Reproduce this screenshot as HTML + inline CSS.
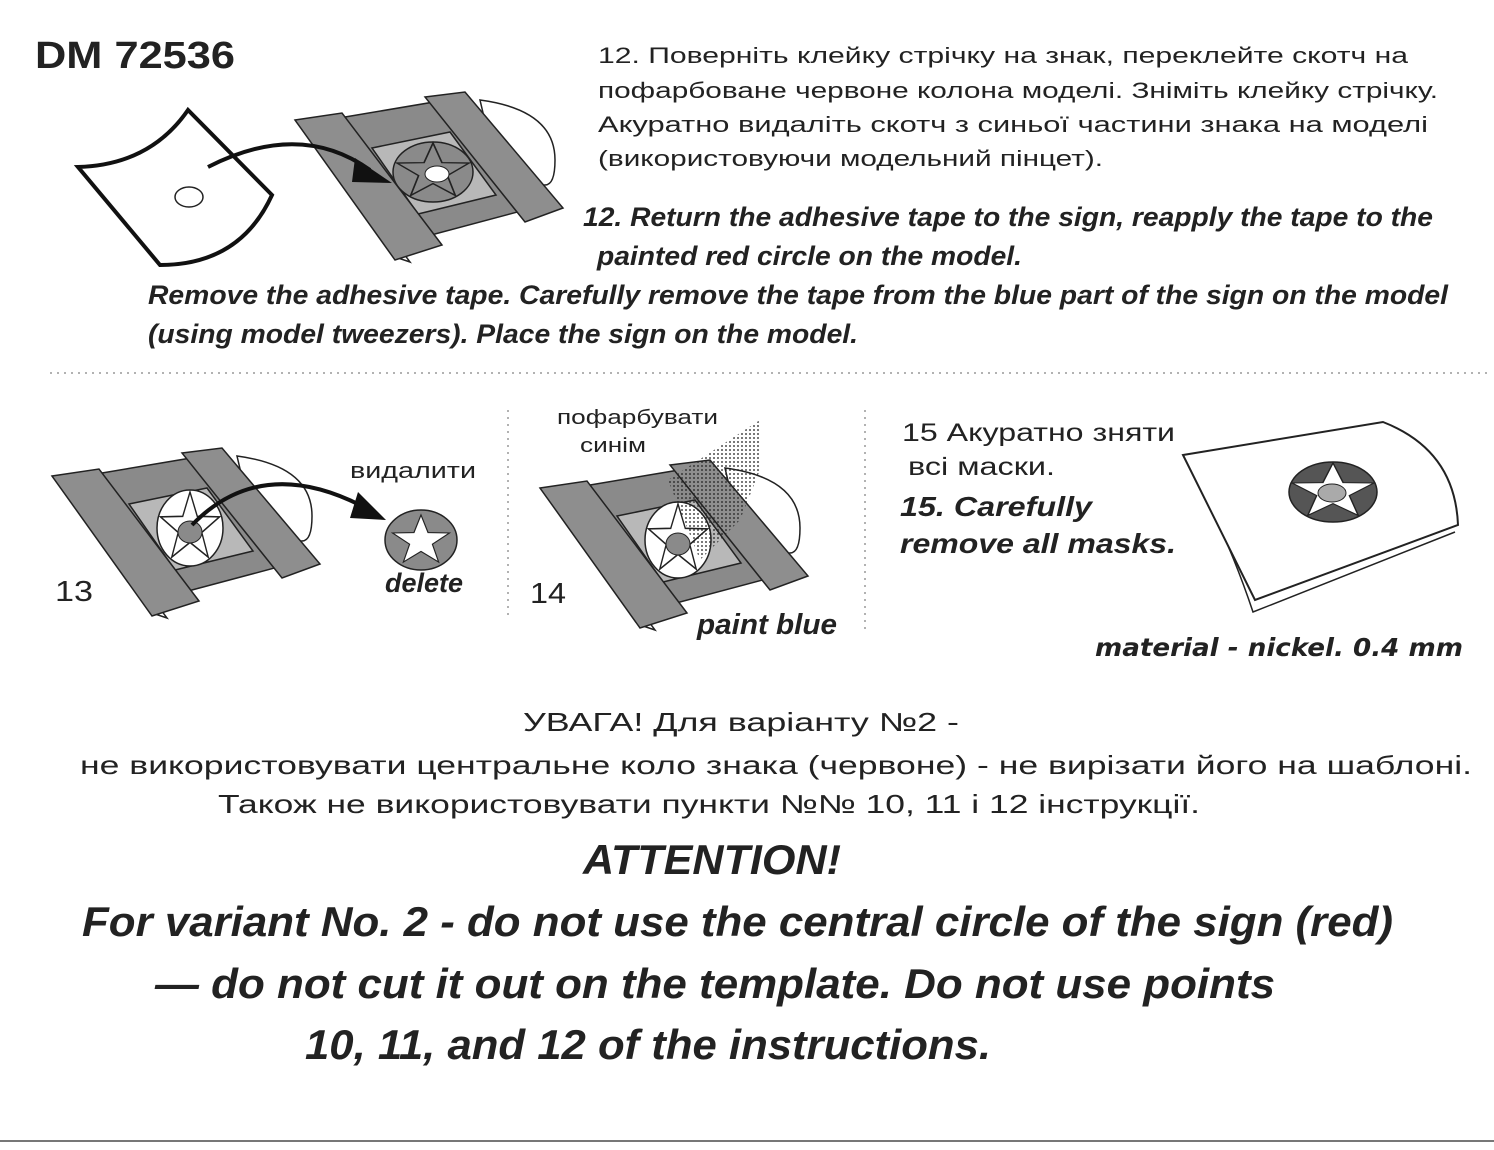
<!DOCTYPE html>
<html><head><meta charset="utf-8"><style>
html,body{margin:0;padding:0;background:#fff;}
svg{display:block;}
.s{font-family:"Liberation Sans",sans-serif;fill:#222;}
.bi{font-family:"Liberation Sans Narrow","Liberation Sans",sans-serif;font-weight:bold;font-style:italic;fill:#222;}
</style></head><body>
<svg width="1494" height="1150" viewBox="0 0 1494 1150" xmlns="http://www.w3.org/2000/svg">
<defs>
<pattern id="dots" width="4" height="4" patternUnits="userSpaceOnUse"><circle cx="2" cy="2" r="1" fill="#222"/></pattern>
</defs>

<text x="35" y="68" class="s" font-size="38" font-weight="bold" fill="#111" textLength="200" lengthAdjust="spacingAndGlyphs">DM 72536</text>

<g class="s" font-size="22">
<text x="598" y="63" textLength="810" lengthAdjust="spacingAndGlyphs">12. Поверніть клейку стрічку на знак, переклейте  скотч на</text>
<text x="598" y="98" textLength="840" lengthAdjust="spacingAndGlyphs">пофарбоване червоне колона моделі. Зніміть клейку стрічку.</text>
<text x="598" y="132" textLength="830" lengthAdjust="spacingAndGlyphs">Акуратно видаліть скотч з синьої частини знака на моделі</text>
<text x="598" y="166" textLength="505" lengthAdjust="spacingAndGlyphs">(використовуючи модельний пінцет).</text>
</g>
<g class="bi" font-size="27">
<text x="583" y="226" textLength="850" lengthAdjust="spacingAndGlyphs">12. Return the adhesive tape to the sign, reapply the tape to the</text>
<text x="597" y="265" textLength="425" lengthAdjust="spacingAndGlyphs">painted red circle on the model.</text>
<text x="148" y="304" textLength="1300" lengthAdjust="spacingAndGlyphs">Remove the adhesive tape. Carefully remove the tape from the blue part of the sign on the model</text>
<text x="148" y="343" textLength="710" lengthAdjust="spacingAndGlyphs">(using model tweezers). Place the sign on the model.</text>
</g>

<!-- step 12 paper -->
<path d="M78,167 Q150,165 188,110 L272,195 Q240,265 160,265 Z" fill="#fff" stroke="#111" stroke-width="4"/>
<ellipse cx="189" cy="197" rx="14" ry="10" fill="none" stroke="#222" stroke-width="1.5"/>

<g id="asm12">
<path d="M480,100 Q555,110 555,160 Q555,185 545,185 L500,185 Z" fill="#fff" stroke="#222" stroke-width="1.5"/>
<polygon points="380,232 398,258 410,262 390,235" fill="#fff" stroke="#222" stroke-width="1.5"/>
<polygon points="345,117 440,101 525,210 420,238" fill="#8a8a8a" stroke="#222" stroke-width="1.5"/>
<polygon points="372,148 450,132 496,195 418,214" fill="#b8b8b8" stroke="#222" stroke-width="1.5"/>
<polygon points="295,120 342,113 442,245 395,260" fill="#8e8e8e" stroke="#222" stroke-width="1.5"/>
<polygon points="425,97 465,92 563,208 525,222" fill="#8e8e8e" stroke="#222" stroke-width="1.5"/>
</g>
<ellipse cx="433" cy="172" rx="40" ry="30" fill="#8a8a8a" stroke="#222" stroke-width="1.5"/>
<g transform="translate(433,172) scale(38,29)"><polygon points="0,-1 .235,-.324 .951,-.309 .38,.124 .588,.809 0,.4 -.588,.809 -.38,.124 -.951,-.309 -.235,-.324" fill="none" stroke="#222" stroke-width="0.045"/></g>
<ellipse cx="437" cy="174" rx="12" ry="8" fill="#fff" stroke="#222" stroke-width="1"/>
<path d="M208,167 Q300,120 370,170" fill="none" stroke="#111" stroke-width="4"/>
<polygon points="355,158 392,183 352,182" fill="#111"/>

<line x1="50" y1="373" x2="1490" y2="373" stroke="#999" stroke-width="1.5" stroke-dasharray="2,5"/>
<line x1="508" y1="410" x2="508" y2="620" stroke="#999" stroke-width="1.5" stroke-dasharray="2,5"/>
<line x1="865" y1="410" x2="865" y2="630" stroke="#999" stroke-width="1.5" stroke-dasharray="2,5"/>

<!-- step 13 -->
<g transform="translate(-243,356)">
<use href="#asm12"/>
<ellipse cx="433" cy="172" rx="33" ry="38" fill="#fff" stroke="#222" stroke-width="1.5"/>
<g transform="translate(433,172) scale(31,36)"><polygon points="0,-1 .235,-.324 .951,-.309 .38,.124 .588,.809 0,.4 -.588,.809 -.38,.124 -.951,-.309 -.235,-.324" fill="none" stroke="#222" stroke-width="0.045"/></g>
<ellipse cx="433" cy="176" rx="12" ry="11" fill="#8a8a8a" stroke="#222" stroke-width="1"/>
</g>
<path d="M192,525 Q260,455 360,505" fill="none" stroke="#111" stroke-width="4"/>
<polygon points="358,492 386,520 350,518" fill="#111"/>
<ellipse cx="421" cy="540" rx="36" ry="30" fill="#8a8a8a" stroke="#222" stroke-width="1.5"/>
<g transform="translate(421,541) scale(30,26)"><polygon points="0,-1 .235,-.324 .951,-.309 .38,.124 .588,.809 0,.4 -.588,.809 -.38,.124 -.951,-.309 -.235,-.324" fill="#fff" stroke="#222" stroke-width="0.04"/></g>
<text x="350" y="478" class="s" font-size="22" textLength="126" lengthAdjust="spacingAndGlyphs">видалити</text>
<text x="385" y="592" class="bi" font-size="27" textLength="78" lengthAdjust="spacingAndGlyphs">delete</text>
<text x="55" y="601" class="s" font-size="29" textLength="38" lengthAdjust="spacingAndGlyphs">13</text>

<!-- step 14 -->
<g transform="translate(245,368)">
<use href="#asm12"/>
<ellipse cx="433" cy="172" rx="33" ry="38" fill="#fff" stroke="#222" stroke-width="1.5"/>
<g transform="translate(433,172) scale(31,36)"><polygon points="0,-1 .235,-.324 .951,-.309 .38,.124 .588,.809 0,.4 -.588,.809 -.38,.124 -.951,-.309 -.235,-.324" fill="none" stroke="#222" stroke-width="0.045"/></g>
<ellipse cx="433" cy="176" rx="12" ry="11" fill="#8a8a8a" stroke="#222" stroke-width="1"/>
</g>
<polygon points="760,420 668,480 700,560 740,520 760,470" fill="url(#dots)" opacity="0.8"/>
<text x="557" y="424" class="s" font-size="20" textLength="161" lengthAdjust="spacingAndGlyphs">пофарбувати</text>
<text x="580" y="452" class="s" font-size="20" textLength="66" lengthAdjust="spacingAndGlyphs">синім</text>
<text x="697" y="634" class="bi" font-size="29" textLength="140" lengthAdjust="spacingAndGlyphs">paint blue</text>
<text x="530" y="603" class="s" font-size="29" textLength="36" lengthAdjust="spacingAndGlyphs">14</text>

<!-- step 15 -->
<text x="902" y="441" class="s" font-size="25" textLength="273" lengthAdjust="spacingAndGlyphs">15 Акуратно зняти</text>
<text x="908" y="475" class="s" font-size="25" textLength="147" lengthAdjust="spacingAndGlyphs">всі маски.</text>
<text x="900" y="516" class="bi" font-size="28" textLength="192" lengthAdjust="spacingAndGlyphs">15. Carefully</text>
<text x="900" y="553" class="bi" font-size="28" textLength="276" lengthAdjust="spacingAndGlyphs">remove all masks.</text>
<path d="M1183,455 Q1225,528 1253,612 L1455,532" fill="none" stroke="#222" stroke-width="1.5"/>
<path d="M1183,455 L1383,422 Q1455,450 1458,525 L1255,600 Q1220,530 1183,455 Z" fill="#fff" stroke="#222" stroke-width="2"/>
<ellipse cx="1333" cy="492" rx="44" ry="30" fill="#555" stroke="#222" stroke-width="1.5"/>
<g transform="translate(1333,492) scale(43,29)"><polygon points="0,-1 .235,-.324 .951,-.309 .38,.124 .588,.809 0,.4 -.588,.809 -.38,.124 -.951,-.309 -.235,-.324" fill="#fff" stroke="#222" stroke-width="0.035"/></g>
<ellipse cx="1332" cy="493" rx="14" ry="9" fill="#aaa" stroke="#222" stroke-width="1"/>
<text x="1095" y="656" font-family="'DejaVu Sans',sans-serif" font-weight="bold" font-style="italic" font-size="25" fill="#222" textLength="368" lengthAdjust="spacingAndGlyphs">material - nickel.  0.4 mm</text>

<g class="s" font-size="26">
<text x="523" y="731" textLength="436" lengthAdjust="spacingAndGlyphs">УВАГА! Для варіанту №2 -</text>
<text x="80" y="774" textLength="1392" lengthAdjust="spacingAndGlyphs">не використовувати центральне коло знака (червоне) - не вирізати його на шаблоні.</text>
<text x="218" y="813" textLength="982" lengthAdjust="spacingAndGlyphs">Також не використовувати пункти №№ 10, 11 і 12 інструкції.</text>
</g>
<g class="bi" font-size="42">
<text x="583" y="874" textLength="258" lengthAdjust="spacingAndGlyphs">ATTENTION!</text>
<text x="82" y="936" textLength="1311" lengthAdjust="spacingAndGlyphs">For variant No. 2 - do not use the central circle of the sign (red)</text>
<text x="155" y="998" textLength="1120" lengthAdjust="spacingAndGlyphs">— do not cut it out on the template. Do not use points</text>
<text x="305" y="1059" textLength="686" lengthAdjust="spacingAndGlyphs">10, 11, and 12 of the instructions.</text>
</g>
<line x1="0" y1="1141" x2="1494" y2="1141" stroke="#777" stroke-width="2"/>
</svg>
</body></html>
